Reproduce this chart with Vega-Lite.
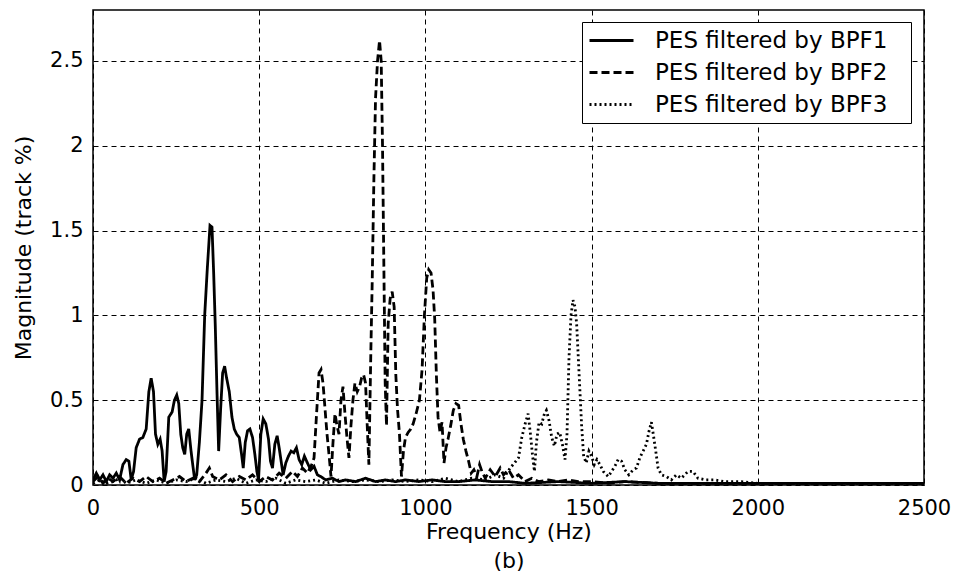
{
  "$schema": "https://vega.github.io/schema/vega-lite/v6.json",
  "autosize": "none",
  "width": 831,
  "height": 475,
  "padding": {"left": 93, "top": 10, "right": 32, "bottom": 99},
  "background": "white",
  "config": {
    "font": "DejaVu Sans",
    "view": {"stroke": "black", "strokeWidth": 1.5},
    "axis": {
      "domain": false,
      "grid": true,
      "gridColor": "black",
      "gridOpacity": 1,
      "gridWidth": 1,
      "gridDash": [5, 4],
      "ticks": false,
      "labelColor": "black",
      "labelFont": "DejaVu Sans",
      "labelFontSize": 21,
      "titleFont": "DejaVu Sans",
      "titleFontSize": 22,
      "titleFontWeight": "normal",
      "titleColor": "black"
    }
  },
  "data": {
    "values": [
      {"s":"BPF1","f":0,"v":0.03},{"s":"BPF1","f":10,"v":0.07},{"s":"BPF1","f":20,"v":0.03},{"s":"BPF1","f":30,"v":0.06},{"s":"BPF1","f":40,"v":0.02},{"s":"BPF1","f":50,"v":0.06},{"s":"BPF1","f":60,"v":0.04},{"s":"BPF1","f":70,"v":0.07},{"s":"BPF1","f":80,"v":0.03},{"s":"BPF1","f":90,"v":0.12},{"s":"BPF1","f":100,"v":0.15},{"s":"BPF1","f":108,"v":0.14},{"s":"BPF1","f":115,"v":0.03},{"s":"BPF1","f":122,"v":0.08},{"s":"BPF1","f":130,"v":0.22},{"s":"BPF1","f":140,"v":0.27},{"s":"BPF1","f":150,"v":0.28},{"s":"BPF1","f":160,"v":0.33},{"s":"BPF1","f":168,"v":0.55},{"s":"BPF1","f":175,"v":0.63},{"s":"BPF1","f":182,"v":0.55},{"s":"BPF1","f":188,"v":0.30},{"s":"BPF1","f":195,"v":0.24},{"s":"BPF1","f":202,"v":0.27},{"s":"BPF1","f":208,"v":0.20},{"s":"BPF1","f":214,"v":0.02},{"s":"BPF1","f":220,"v":0.08},{"s":"BPF1","f":228,"v":0.40},{"s":"BPF1","f":238,"v":0.43},{"s":"BPF1","f":245,"v":0.50},{"s":"BPF1","f":252,"v":0.53},{"s":"BPF1","f":258,"v":0.48},{"s":"BPF1","f":264,"v":0.30},{"s":"BPF1","f":270,"v":0.22},{"s":"BPF1","f":276,"v":0.18},{"s":"BPF1","f":282,"v":0.30},{"s":"BPF1","f":288,"v":0.33},{"s":"BPF1","f":295,"v":0.20},{"s":"BPF1","f":300,"v":0.12},{"s":"BPF1","f":306,"v":0.03},{"s":"BPF1","f":312,"v":0.06},{"s":"BPF1","f":320,"v":0.25},{"s":"BPF1","f":328,"v":0.50},{"s":"BPF1","f":336,"v":1.00},{"s":"BPF1","f":344,"v":1.28},{"s":"BPF1","f":352,"v":1.53},{"s":"BPF1","f":358,"v":1.52},{"s":"BPF1","f":363,"v":1.25},{"s":"BPF1","f":368,"v":0.93},{"s":"BPF1","f":373,"v":0.55},{"s":"BPF1","f":378,"v":0.20},{"s":"BPF1","f":384,"v":0.45},{"s":"BPF1","f":390,"v":0.66},{"s":"BPF1","f":396,"v":0.70},{"s":"BPF1","f":402,"v":0.63},{"s":"BPF1","f":410,"v":0.55},{"s":"BPF1","f":418,"v":0.40},{"s":"BPF1","f":425,"v":0.33},{"s":"BPF1","f":432,"v":0.30},{"s":"BPF1","f":440,"v":0.28},{"s":"BPF1","f":447,"v":0.18},{"s":"BPF1","f":452,"v":0.10},{"s":"BPF1","f":458,"v":0.25},{"s":"BPF1","f":465,"v":0.32},{"s":"BPF1","f":472,"v":0.33},{"s":"BPF1","f":480,"v":0.28},{"s":"BPF1","f":487,"v":0.18},{"s":"BPF1","f":493,"v":0.08},{"s":"BPF1","f":498,"v":0.03},{"s":"BPF1","f":505,"v":0.30},{"s":"BPF1","f":512,"v":0.39},{"s":"BPF1","f":520,"v":0.36},{"s":"BPF1","f":528,"v":0.27},{"s":"BPF1","f":534,"v":0.14},{"s":"BPF1","f":540,"v":0.10},{"s":"BPF1","f":547,"v":0.24},{"s":"BPF1","f":554,"v":0.29},{"s":"BPF1","f":560,"v":0.22},{"s":"BPF1","f":566,"v":0.14},{"s":"BPF1","f":572,"v":0.06},{"s":"BPF1","f":580,"v":0.13},{"s":"BPF1","f":588,"v":0.17},{"s":"BPF1","f":596,"v":0.20},{"s":"BPF1","f":604,"v":0.19},{"s":"BPF1","f":612,"v":0.22},{"s":"BPF1","f":620,"v":0.15},{"s":"BPF1","f":628,"v":0.12},{"s":"BPF1","f":636,"v":0.17},{"s":"BPF1","f":645,"v":0.13},{"s":"BPF1","f":655,"v":0.09},{"s":"BPF1","f":665,"v":0.11},{"s":"BPF1","f":675,"v":0.06},{"s":"BPF1","f":685,"v":0.05},{"s":"BPF1","f":700,"v":0.03},{"s":"BPF1","f":720,"v":0.04},{"s":"BPF1","f":740,"v":0.02},{"s":"BPF1","f":760,"v":0.03},{"s":"BPF1","f":790,"v":0.02},{"s":"BPF1","f":820,"v":0.04},{"s":"BPF1","f":850,"v":0.02},{"s":"BPF1","f":880,"v":0.03},{"s":"BPF1","f":910,"v":0.02},{"s":"BPF1","f":940,"v":0.03},{"s":"BPF1","f":980,"v":0.02},{"s":"BPF1","f":1020,"v":0.03},{"s":"BPF1","f":1060,"v":0.02},{"s":"BPF1","f":1100,"v":0.02},{"s":"BPF1","f":1150,"v":0.03},{"s":"BPF1","f":1200,"v":0.02},{"s":"BPF1","f":1250,"v":0.02},{"s":"BPF1","f":1300,"v":0.01},{"s":"BPF1","f":1400,"v":0.02},{"s":"BPF1","f":1500,"v":0.01},{"s":"BPF1","f":1600,"v":0.02},{"s":"BPF1","f":1700,"v":0.01},{"s":"BPF1","f":1800,"v":0.01},{"s":"BPF1","f":1900,"v":0.01},{"s":"BPF1","f":2000,"v":0.01},{"s":"BPF1","f":2100,"v":0.01},{"s":"BPF1","f":2200,"v":0.01},{"s":"BPF1","f":2300,"v":0.01},{"s":"BPF1","f":2400,"v":0.01},{"s":"BPF1","f":2500,"v":0.01},

      {"s":"BPF2","f":0,"v":0.02},{"s":"BPF2","f":15,"v":0.05},{"s":"BPF2","f":30,"v":0.01},{"s":"BPF2","f":45,"v":0.04},{"s":"BPF2","f":60,"v":0.02},{"s":"BPF2","f":80,"v":0.05},{"s":"BPF2","f":100,"v":0.01},{"s":"BPF2","f":120,"v":0.04},{"s":"BPF2","f":140,"v":0.02},{"s":"BPF2","f":160,"v":0.05},{"s":"BPF2","f":180,"v":0.02},{"s":"BPF2","f":200,"v":0.04},{"s":"BPF2","f":220,"v":0.01},{"s":"BPF2","f":240,"v":0.03},{"s":"BPF2","f":260,"v":0.05},{"s":"BPF2","f":280,"v":0.02},{"s":"BPF2","f":300,"v":0.04},{"s":"BPF2","f":320,"v":0.02},{"s":"BPF2","f":340,"v":0.07},{"s":"BPF2","f":350,"v":0.10},{"s":"BPF2","f":360,"v":0.05},{"s":"BPF2","f":380,"v":0.03},{"s":"BPF2","f":400,"v":0.06},{"s":"BPF2","f":420,"v":0.02},{"s":"BPF2","f":440,"v":0.05},{"s":"BPF2","f":460,"v":0.03},{"s":"BPF2","f":480,"v":0.06},{"s":"BPF2","f":500,"v":0.02},{"s":"BPF2","f":520,"v":0.05},{"s":"BPF2","f":540,"v":0.03},{"s":"BPF2","f":560,"v":0.07},{"s":"BPF2","f":580,"v":0.04},{"s":"BPF2","f":600,"v":0.08},{"s":"BPF2","f":615,"v":0.05},{"s":"BPF2","f":630,"v":0.10},{"s":"BPF2","f":645,"v":0.07},{"s":"BPF2","f":658,"v":0.12},{"s":"BPF2","f":665,"v":0.16},{"s":"BPF2","f":672,"v":0.40},{"s":"BPF2","f":680,"v":0.66},{"s":"BPF2","f":686,"v":0.68},{"s":"BPF2","f":692,"v":0.60},{"s":"BPF2","f":698,"v":0.45},{"s":"BPF2","f":704,"v":0.30},{"s":"BPF2","f":710,"v":0.18},{"s":"BPF2","f":716,"v":0.05},{"s":"BPF2","f":722,"v":0.25},{"s":"BPF2","f":728,"v":0.42},{"s":"BPF2","f":734,"v":0.35},{"s":"BPF2","f":740,"v":0.30},{"s":"BPF2","f":746,"v":0.50},{"s":"BPF2","f":752,"v":0.58},{"s":"BPF2","f":758,"v":0.42},{"s":"BPF2","f":764,"v":0.28},{"s":"BPF2","f":770,"v":0.16},{"s":"BPF2","f":776,"v":0.35},{"s":"BPF2","f":782,"v":0.50},{"s":"BPF2","f":788,"v":0.60},{"s":"BPF2","f":795,"v":0.55},{"s":"BPF2","f":802,"v":0.58},{"s":"BPF2","f":808,"v":0.63},{"s":"BPF2","f":814,"v":0.65},{"s":"BPF2","f":820,"v":0.60},{"s":"BPF2","f":825,"v":0.35},{"s":"BPF2","f":830,"v":0.12},{"s":"BPF2","f":836,"v":0.80},{"s":"BPF2","f":840,"v":1.20},{"s":"BPF2","f":845,"v":1.80},{"s":"BPF2","f":850,"v":2.28},{"s":"BPF2","f":856,"v":2.50},{"s":"BPF2","f":862,"v":2.62},{"s":"BPF2","f":867,"v":2.50},{"s":"BPF2","f":871,"v":2.00},{"s":"BPF2","f":875,"v":1.30},{"s":"BPF2","f":879,"v":0.60},{"s":"BPF2","f":883,"v":0.35},{"s":"BPF2","f":888,"v":0.95},{"s":"BPF2","f":894,"v":1.10},{"s":"BPF2","f":900,"v":1.14},{"s":"BPF2","f":906,"v":1.05},{"s":"BPF2","f":911,"v":0.65},{"s":"BPF2","f":916,"v":0.45},{"s":"BPF2","f":922,"v":0.30},{"s":"BPF2","f":928,"v":0.05},{"s":"BPF2","f":934,"v":0.20},{"s":"BPF2","f":940,"v":0.28},{"s":"BPF2","f":948,"v":0.31},{"s":"BPF2","f":956,"v":0.33},{"s":"BPF2","f":963,"v":0.36},{"s":"BPF2","f":972,"v":0.42},{"s":"BPF2","f":982,"v":0.50},{"s":"BPF2","f":990,"v":0.68},{"s":"BPF2","f":997,"v":1.00},{"s":"BPF2","f":1004,"v":1.22},{"s":"BPF2","f":1010,"v":1.27},{"s":"BPF2","f":1017,"v":1.25},{"s":"BPF2","f":1023,"v":1.15},{"s":"BPF2","f":1028,"v":0.98},{"s":"BPF2","f":1033,"v":0.65},{"s":"BPF2","f":1038,"v":0.40},{"s":"BPF2","f":1044,"v":0.31},{"s":"BPF2","f":1050,"v":0.37},{"s":"BPF2","f":1056,"v":0.13},{"s":"BPF2","f":1062,"v":0.22},{"s":"BPF2","f":1068,"v":0.27},{"s":"BPF2","f":1076,"v":0.35},{"s":"BPF2","f":1084,"v":0.44},{"s":"BPF2","f":1092,"v":0.48},{"s":"BPF2","f":1100,"v":0.47},{"s":"BPF2","f":1107,"v":0.36},{"s":"BPF2","f":1114,"v":0.27},{"s":"BPF2","f":1122,"v":0.20},{"s":"BPF2","f":1130,"v":0.14},{"s":"BPF2","f":1138,"v":0.07},{"s":"BPF2","f":1146,"v":0.09},{"s":"BPF2","f":1155,"v":0.05},{"s":"BPF2","f":1163,"v":0.12},{"s":"BPF2","f":1170,"v":0.08},{"s":"BPF2","f":1180,"v":0.04},{"s":"BPF2","f":1195,"v":0.09},{"s":"BPF2","f":1210,"v":0.05},{"s":"BPF2","f":1225,"v":0.10},{"s":"BPF2","f":1235,"v":0.06},{"s":"BPF2","f":1250,"v":0.09},{"s":"BPF2","f":1265,"v":0.04},{"s":"BPF2","f":1280,"v":0.06},{"s":"BPF2","f":1300,"v":0.02},{"s":"BPF2","f":1320,"v":0.04},{"s":"BPF2","f":1340,"v":0.02},{"s":"BPF2","f":1370,"v":0.03},{"s":"BPF2","f":1400,"v":0.02},{"s":"BPF2","f":1430,"v":0.03},{"s":"BPF2","f":1460,"v":0.02},{"s":"BPF2","f":1500,"v":0.02},{"s":"BPF2","f":1550,"v":0.01},{"s":"BPF2","f":1600,"v":0.02},{"s":"BPF2","f":1700,"v":0.01},{"s":"BPF2","f":1800,"v":0.01},{"s":"BPF2","f":1900,"v":0.01},{"s":"BPF2","f":2000,"v":0.01},{"s":"BPF2","f":2200,"v":0.01},{"s":"BPF2","f":2500,"v":0.01},

      {"s":"BPF3","f":0,"v":0.01},{"s":"BPF3","f":20,"v":0.03},{"s":"BPF3","f":40,"v":0.01},{"s":"BPF3","f":60,"v":0.02},{"s":"BPF3","f":80,"v":0.04},{"s":"BPF3","f":100,"v":0.01},{"s":"BPF3","f":130,"v":0.03},{"s":"BPF3","f":160,"v":0.01},{"s":"BPF3","f":190,"v":0.03},{"s":"BPF3","f":220,"v":0.01},{"s":"BPF3","f":250,"v":0.03},{"s":"BPF3","f":280,"v":0.02},{"s":"BPF3","f":310,"v":0.04},{"s":"BPF3","f":340,"v":0.01},{"s":"BPF3","f":370,"v":0.03},{"s":"BPF3","f":400,"v":0.02},{"s":"BPF3","f":430,"v":0.04},{"s":"BPF3","f":460,"v":0.01},{"s":"BPF3","f":490,"v":0.03},{"s":"BPF3","f":520,"v":0.02},{"s":"BPF3","f":550,"v":0.04},{"s":"BPF3","f":580,"v":0.01},{"s":"BPF3","f":610,"v":0.03},{"s":"BPF3","f":640,"v":0.02},{"s":"BPF3","f":670,"v":0.03},{"s":"BPF3","f":700,"v":0.01},{"s":"BPF3","f":740,"v":0.03},{"s":"BPF3","f":780,"v":0.02},{"s":"BPF3","f":820,"v":0.03},{"s":"BPF3","f":860,"v":0.02},{"s":"BPF3","f":900,"v":0.03},{"s":"BPF3","f":940,"v":0.02},{"s":"BPF3","f":980,"v":0.03},{"s":"BPF3","f":1020,"v":0.02},{"s":"BPF3","f":1060,"v":0.04},{"s":"BPF3","f":1100,"v":0.02},{"s":"BPF3","f":1140,"v":0.04},{"s":"BPF3","f":1180,"v":0.03},{"s":"BPF3","f":1210,"v":0.06},{"s":"BPF3","f":1235,"v":0.04},{"s":"BPF3","f":1255,"v":0.10},{"s":"BPF3","f":1268,"v":0.13},{"s":"BPF3","f":1280,"v":0.16},{"s":"BPF3","f":1290,"v":0.28},{"s":"BPF3","f":1300,"v":0.36},{"s":"BPF3","f":1309,"v":0.42},{"s":"BPF3","f":1316,"v":0.30},{"s":"BPF3","f":1322,"v":0.18},{"s":"BPF3","f":1328,"v":0.08},{"s":"BPF3","f":1334,"v":0.25},{"s":"BPF3","f":1342,"v":0.37},{"s":"BPF3","f":1350,"v":0.36},{"s":"BPF3","f":1358,"v":0.42},{"s":"BPF3","f":1364,"v":0.44},{"s":"BPF3","f":1372,"v":0.38},{"s":"BPF3","f":1380,"v":0.28},{"s":"BPF3","f":1388,"v":0.23},{"s":"BPF3","f":1396,"v":0.30},{"s":"BPF3","f":1404,"v":0.31},{"s":"BPF3","f":1412,"v":0.24},{"s":"BPF3","f":1420,"v":0.15},{"s":"BPF3","f":1426,"v":0.30},{"s":"BPF3","f":1432,"v":0.75},{"s":"BPF3","f":1438,"v":1.00},{"s":"BPF3","f":1444,"v":1.09},{"s":"BPF3","f":1450,"v":1.05},{"s":"BPF3","f":1455,"v":0.95},{"s":"BPF3","f":1460,"v":0.75},{"s":"BPF3","f":1465,"v":0.55},{"s":"BPF3","f":1470,"v":0.35},{"s":"BPF3","f":1476,"v":0.17},{"s":"BPF3","f":1484,"v":0.13},{"s":"BPF3","f":1492,"v":0.20},{"s":"BPF3","f":1500,"v":0.17},{"s":"BPF3","f":1508,"v":0.12},{"s":"BPF3","f":1516,"v":0.15},{"s":"BPF3","f":1525,"v":0.12},{"s":"BPF3","f":1535,"v":0.08},{"s":"BPF3","f":1550,"v":0.05},{"s":"BPF3","f":1560,"v":0.08},{"s":"BPF3","f":1570,"v":0.11},{"s":"BPF3","f":1580,"v":0.15},{"s":"BPF3","f":1590,"v":0.14},{"s":"BPF3","f":1600,"v":0.09},{"s":"BPF3","f":1612,"v":0.06},{"s":"BPF3","f":1625,"v":0.09},{"s":"BPF3","f":1635,"v":0.10},{"s":"BPF3","f":1645,"v":0.16},{"s":"BPF3","f":1655,"v":0.20},{"s":"BPF3","f":1665,"v":0.24},{"s":"BPF3","f":1673,"v":0.32},{"s":"BPF3","f":1680,"v":0.37},{"s":"BPF3","f":1687,"v":0.28},{"s":"BPF3","f":1693,"v":0.20},{"s":"BPF3","f":1700,"v":0.10},{"s":"BPF3","f":1710,"v":0.06},{"s":"BPF3","f":1725,"v":0.05},{"s":"BPF3","f":1740,"v":0.03},{"s":"BPF3","f":1755,"v":0.06},{"s":"BPF3","f":1770,"v":0.04},{"s":"BPF3","f":1790,"v":0.08},{"s":"BPF3","f":1805,"v":0.08},{"s":"BPF3","f":1820,"v":0.04},{"s":"BPF3","f":1845,"v":0.03},{"s":"BPF3","f":1870,"v":0.03},{"s":"BPF3","f":1900,"v":0.02},{"s":"BPF3","f":1950,"v":0.02},{"s":"BPF3","f":2000,"v":0.01},{"s":"BPF3","f":2100,"v":0.01},{"s":"BPF3","f":2200,"v":0.01},{"s":"BPF3","f":2300,"v":0.01},{"s":"BPF3","f":2400,"v":0.01},{"s":"BPF3","f":2500,"v":0.01}
    ]
  },
  "mark": {"type": "line", "color": "black", "strokeWidth": 2.8, "strokeCap": "butt", "clip": true},
  "encoding": {
    "x": {
      "field": "f",
      "type": "quantitative",
      "scale": {"domain": [0, 2500], "nice": false, "zero": false},
      "axis": {
        "values": [0, 500, 1000, 1500, 2000, 2500],
        "format": "d",
        "labelPadding": 12,
        "labelFlush": false,
        "title": ["Frequency (Hz)", "(b)"],
        "titleLineHeight": 29,
        "titlePadding": 3
      }
    },
    "y": {
      "field": "v",
      "type": "quantitative",
      "scale": {"domain": [0, 2.8], "nice": false},
      "axis": {
        "values": [0, 0.5, 1, 1.5, 2, 2.5],
        "format": "~g",
        "labelPadding": 10,
        "labelFlush": false,
        "title": "Magnitude (track %)",
        "titlePadding": 14
      }
    },
    "strokeDash": {
      "field": "s",
      "type": "nominal",
      "scale": {"domain": ["BPF1", "BPF2", "BPF3"], "range": [[1, 0], [8, 4], [2, 3]]},
      "legend": {
        "title": null,
        "orient": "none",
        "legendX": 489,
        "legendY": 12,
        "labelExpr": "'PES filtered by ' + datum.label + '\u2800'",
        "labelFont": "DejaVu Sans",
        "labelFontSize": 23,
        "labelColor": "black",
        "labelOffset": 42,
        "labelLimit": 400,
        "symbolType": "M-1,0H3",
        "symbolSize": 484,
        "symbolStrokeWidth": 2.8,
        "symbolStrokeColor": "black",
        "symbolFillColor": "transparent",
        "rowPadding": 7,
        "padding": 6,
        "fillColor": "white",
        "strokeColor": "black",
        "cornerRadius": 0
      }
    }
  }
}
